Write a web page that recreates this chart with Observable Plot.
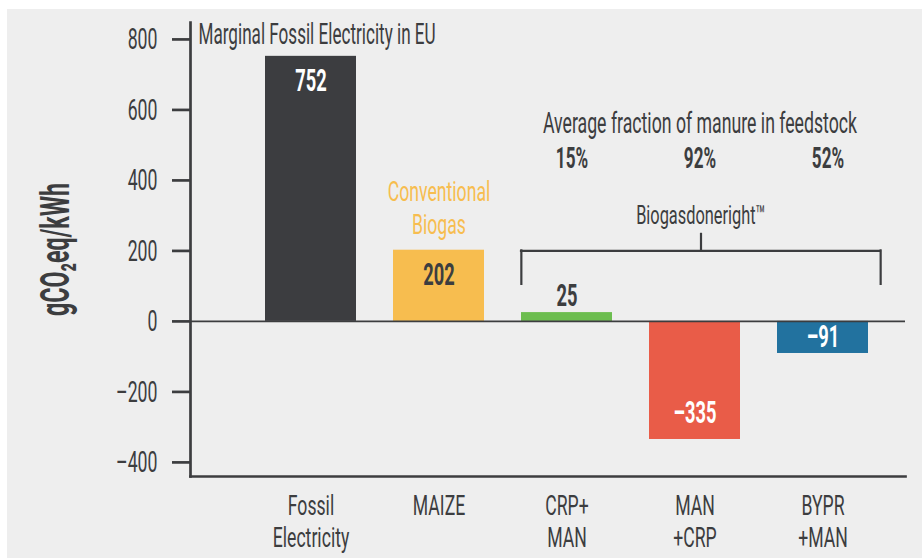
<!DOCTYPE html>
<html>
<head>
<meta charset="utf-8">
<script src="https://cdn.jsdelivr.net/npm/d3@7"></script>
<script src="https://cdn.jsdelivr.net/npm/@observablehq/plot@0.6"></script>
<style>
  html, body { margin: 0; padding: 0; background: #ffffff; }
  #chart { position: absolute; left: 7px; top: 9px; width: 915px; height: 549px; background: #eeeeee; }
</style>
</head>
<body>
<div id="chart"></div>
<script>
// ---- data ----
const categories = ["Fossil Electricity", "MAIZE", "CRP+MAN", "MAN+CRP", "BYPR+MAN"];
const tickLabels = ["Fossil\nElectricity", "MAIZE", "CRP+\nMAN", "MAN\n+CRP", "BYPR\n+MAN"];
const values = [752, 202, 25, -335, -91];
const barColors = ["#3c3d40", "#f7bd4f", "#6cbd4f", "#e95c48", "#22729f"];
const yTicks = [-400, -200, 0, 200, 400, 600, 800];
const manureCategories = ["CRP+MAN", "MAN+CRP", "BYPR+MAN"];
const manurePercent = [15, 92, 52];
const titleText = "Marginal Fossil Electricity in EU";
const manureTitle = "Average fraction of manure in feedstock";
const conventionalLabel = "Conventional\nBiogas";
const groupLabel = "Biogasdoneright\u2122";
const yLabel = "gCO\u2082eq/kWh";
const bracketStubTop = 250;
const bracketBarLevel = 200;
const bracketEndLevel = 105;

// ---- layout / style ----
const ink = "#3c3d3f";
const W = 915, H = 549;
const xRange = [238, 881], pIn = 0.29, pOut = 0.145;
const step = (xRange[1] - xRange[0]) / (categories.length - pIn + 2 * pOut);
const bw = step * (1 - pIn);
const fmt = v => (v < 0 ? "\u2013" + Math.abs(v) : String(v));

const data = categories.map((c, i) => ({cat: c, value: values[i], label: tickLabels[i], color: barColors[i]}));
const onBar = d => (d3.lab(d.color).l < 65 ? "#ffffff" : ink);

const marks = [
  Plot.barY(data, {x: "cat", y: "value", fill: "cat"}),
  Plot.ruleY([0], {stroke: ink, strokeWidth: 1.6}),
  Plot.frame({anchor: "left", stroke: ink, strokeWidth: 2.7}),
  Plot.frame({anchor: "bottom", stroke: ink, strokeWidth: 2.7}),
  Plot.axisY({ticks: yTicks, tickSize: 18, tickPadding: 15, stroke: ink, strokeWidth: 2.7, fontSize: 30, fill: ink, tickFormat: fmt, label: null}),
  Plot.text(data, {x: "cat", text: "label", frameAnchor: "bottom", lineAnchor: "top", dy: 15, lineHeight: 1.16, fontSize: 28, fill: ink}),
  Plot.text([titleText], {text: d => d, frameAnchor: "top-left", textAnchor: "start", lineAnchor: "top", dx: 8, dy: 1, fontSize: 29, fill: ink}),
  Plot.text([yLabel], {text: d => d, frameAnchor: "left", textAnchor: "middle", rotate: -90, dx: -134, fontWeight: "bold", fontSize: 40, fill: ink}),
  Plot.text(data.filter(d => d.cat === "MAIZE"), {x: "cat", y: "value", text: () => conventionalLabel, lineAnchor: "bottom", dy: -16, lineHeight: 1.18, fontSize: 28, fill: barColors[1]}),
  Plot.text([{cat: manureCategories[1], t: manureTitle}], {x: "cat", text: "t", frameAnchor: "top", lineAnchor: "bottom", dy: 110, dx: 5, fontSize: 30, fill: ink}),
  Plot.text(manureCategories.map((c, i) => ({cat: c, p: manurePercent[i]})), {x: "cat", text: d => d.p + "%", frameAnchor: "top", lineAnchor: "bottom", dy: 145, dx: 5, fontWeight: "bold", fontSize: 29, fill: ink}),
  Plot.text([{cat: manureCategories[1], t: groupLabel}], {x: "cat", text: "t", frameAnchor: "top", lineAnchor: "bottom", dy: 201, dx: 6, fontSize: 26, fill: ink}),
  Plot.ruleY([bracketBarLevel], {x1: () => manureCategories[0], x2: () => manureCategories[2], insetRight: -12, stroke: ink, strokeWidth: 2.2, strokeLinecap: "square"}),
  Plot.ruleX([manureCategories[0]], {y1: bracketEndLevel, y2: bracketBarLevel, dx: -bw / 2, stroke: ink, strokeWidth: 2.2, strokeLinecap: "square"}),
  Plot.ruleX([manureCategories[2]], {y1: bracketEndLevel, y2: bracketBarLevel, dx: bw / 2 + 12, stroke: ink, strokeWidth: 2.2, strokeLinecap: "square"}),
  Plot.ruleX([manureCategories[1]], {y1: bracketBarLevel, y2: bracketStubTop, dx: 6, stroke: ink, strokeWidth: 2.2})
];

// value labels
const placements = [
  {when: d => d.value > 100, y: d => d.value, lineAnchor: "top", dy: 13, inside: true},
  {when: d => d.value >= 0 && d.value <= 100, y: d => d.value, lineAnchor: "bottom", dy: -7, inside: false},
  {when: d => d.value < -100, y: d => d.value, lineAnchor: "bottom", dy: -16, inside: true},
  {when: d => d.value < 0 && d.value >= -100, y: d => d.value / 2, lineAnchor: "middle", dy: 0, inside: true}
];
for (const p of placements) {
  for (const tone of ["#ffffff", ink]) {
    marks.push(Plot.text(data, {
      filter: d => p.when(d) && (p.inside ? onBar(d) : ink) === tone,
      x: "cat", y: p.y, text: d => fmt(d.value),
      lineAnchor: p.lineAnchor, dy: p.dy, fill: tone, fontWeight: "bold", fontSize: 31
    }));
  }
}

const chart = Plot.plot({
  width: W,
  height: H,
  marginLeft: 183,
  marginRight: 17,
  marginTop: 13,
  marginBottom: 82,
  style: {fontFamily: "Roboto, 'Liberation Sans', sans-serif", fontSize: "30px", color: ink, background: "transparent", overflow: "visible"},
  x: {type: "band", domain: categories, range: xRange, paddingInner: pIn, paddingOuter: pOut, axis: null},
  y: {domain: [-440, 848], axis: null},
  color: {domain: categories, range: barColors},
  marks
});

document.getElementById("chart").appendChild(chart);

// condense glyphs horizontally (narrow display face)
chart.querySelectorAll("text").forEach(t => {
  const cs = getComputedStyle(t);
  const size = parseFloat(cs.fontSize);
  const sx = size >= 38 ? 0.58 : (size <= 28.5 && +cs.fontWeight < 600 ? 0.63 : 0.59);
  const tr = t.getAttribute("transform");
  if (tr) {
    t.setAttribute("transform", tr + ` scale(${sx},1)`);
  } else {
    const x = +(t.getAttribute("x") || 0);
    t.setAttribute("x", x / sx);
    t.setAttribute("transform", `scale(${sx},1)`);
  }
});
</script>
</body>
</html>
